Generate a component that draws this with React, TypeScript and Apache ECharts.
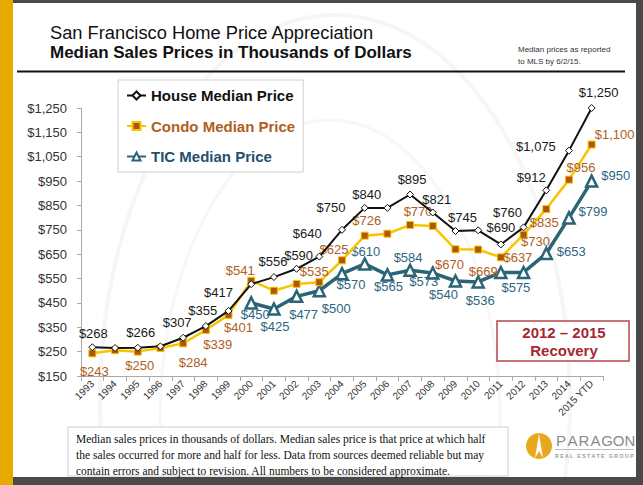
import React, { useEffect, useRef } from "react";
import * as echarts from "echarts";

const years = [
  "1993", "1994", "1995", "1996", "1997", "1998", "1999", "2000", "2001", "2002", "2003", "2004",
  "2005", "2006", "2007", "2008", "2009", "2010", "2011", "2012", "2013", "2014", "2015 YTD",
];

const houseValues = [268, 265, 266, 272, 307, 355, 417, 527, 556, 590, 640, 750, 840, 840, 895, 821, 745, 748, 690, 760, 912, 1075, 1250];
const condoValues = [243, 256, 250, 265, 284, 339, 401, 541, 500, 528, 535, 625, 726, 734, 770, 766, 670, 669, 637, 730, 835, 956, 1100];
const ticValues: (number | null)[] = [null, null, null, null, null, null, null, 450, 425, 477, 500, 570, 610, 565, 584, 573, 540, 536, 575, 575, 653, 799, 950];

const yMin = 150;
const yMax = 1250;
const yStep = 100;

// label placement (offset from point, px); null = no label
type Off = [number, number] | null;
const houseLabelOffsets: Off[] = [
  [1, -14], null, [3, -15], null, [-6, -15], [-3, -16], [-10, -18], null, [-1, -16], [2, -13], [-12, -23], [-11, -22],
  [2, -13], null, [2, -15], [4, -13], [7, -14], null, [0, -17], [-16, -15], [-15, -13], [-33, -4], [7, -16],
];
const condoLabelOffsets: Off[] = [
  [2, 18], null, [2, 14], null, [10, 19], [12, 15], [10, 13], [-11, -10], null, null, [-5, -11], [-8, -11],
  [2, -15], null, [8, -13], null, [-6, 15], [5, 22], [17, 0], [12, 7], [-2, 13], [12, -12], [23, -10],
];
const ticLabelOffsets: Off[] = [
  null, null, null, null, null, null, null, [4, 12], [1, 17], [7, 18], [17, 18], [9, 11],
  [1, -12], [1, 12], [-2, -13], [-9, 9], [-12, 14], [2, 19], [15, 15], null, [25, -2], [24, -6], [24, -6],
];

const footerLines = [
  "Median sales prices in thousands of dollars. Median sales price is that price at which half",
  "the sales occurred for more and half for less. Data from sources deemed reliable but may",
  "contain errors and subject to revision. All numbers to be considered approximate.",
];

const SANS = "'Liberation Sans', Arial, sans-serif";
const SERIF = "'Liberation Serif', 'Times New Roman', serif";

const fmt = (v: number) => "$" + v.toLocaleString("en-US");

function buildData(values: (number | null)[], offsets: Off[], color: string) {
  return values.map((v, i) => {
    if (v == null) return null;
    const off = offsets[i];
    return {
      value: v,
      label: off
        ? {
            show: true,
            position: "inside",
            offset: off,
            color,
            fontSize: 13,
            fontFamily: SANS,
            textBorderWidth: 0,
            formatter: (p: any) => fmt(p.value),
          }
        : { show: false },
    };
  });
}

function txt(text: string, x: number, y: number, fontSize: number, fill: string, extra: any = {}) {
  return {
    type: "text",
    x,
    y,
    silent: true,
    style: {
      text,
      fill,
      fontSize,
      fontFamily: SANS,
      textAlign: "left",
      align: "left",
      textVerticalAlign: "middle",
      verticalAlign: "middle",
      ...extra,
    },
  };
}

export default function App() {
  const ref = useRef<HTMLDivElement>(null);
  useEffect(() => {
    if (!ref.current) return;
    const chart = echarts.init(ref.current, null, { renderer: "svg" });

    const paragon = "PARAGON".split("").map((ch, i) =>
      txt(ch, 561 + i * 11.5, 440, 15, "#8a8a8a", { textAlign: "center", align: "center" })
    );

    const graphic: any[] = [
      // faint watermark
      {
        type: "ellipse",
        z: -10,
        silent: true,
        shape: { cx: 335, cy: 400, rx: 235, ry: 385 },
        style: { fill: "none", stroke: "#f6f6f6", lineWidth: 4 },
      },
      {
        type: "ellipse",
        z: -10,
        silent: true,
        shape: { cx: 330, cy: 420, rx: 170, ry: 300 },
        style: { fill: "none", stroke: "#f7f7f7", lineWidth: 3 },
      },
      // frame
      { type: "rect", shape: { x: 0, y: 0, width: 13, height: 485 }, style: { fill: "#E8AA00" }, silent: true },
      { type: "rect", shape: { x: 13, y: 0, width: 630, height: 3 }, style: { fill: "#4a4a4a" }, silent: true },
      { type: "rect", shape: { x: 636, y: 0, width: 7, height: 485 }, style: { fill: "#4a4a4a" }, silent: true },
      { type: "rect", shape: { x: 13, y: 477, width: 630, height: 8 }, style: { fill: "#4a4a4a" }, silent: true },
      // header
      txt("San Francisco Home Price Appreciation", 50, 32, 18.3, "#111"),
      txt("Median Sales Prices in Thousands of Dollars", 50, 52, 17, "#111", { fontWeight: "bold" }),
      txt("Median prices as reported", 518, 49, 8, "#333"),
      txt("to MLS by 6/2/15.", 518, 61, 8, "#333"),
      {
        type: "line",
        silent: true,
        shape: { x1: 17, y1: 71.5, x2: 625, y2: 71.5 },
        style: { stroke: "#111", lineWidth: 2 },
      },
      // recovery box
      {
        type: "rect",
        silent: true,
        shape: { x: 497, y: 321, width: 132, height: 40 },
        style: { fill: "#fff", stroke: "#b8444e", lineWidth: 1.5 },
      },
      txt("2012 \u2013 2015", 564, 332, 15, "#a8262f", { fontWeight: "bold", textAlign: "center", align: "center" }),
      txt("Recovery", 564, 350, 15, "#a8262f", { fontWeight: "bold", textAlign: "center", align: "center" }),
      // footer
      {
        type: "rect",
        silent: true,
        shape: { x: 68, y: 427, width: 440, height: 49 },
        style: { fill: "#fff", stroke: "#cccccc", lineWidth: 1 },
      },
      ...footerLines.map((l, i) => txt(l, 76, 439 + i * 16, 11.5, "#111", { fontFamily: SERIF })),
      // logo
      {
        type: "circle",
        silent: true,
        shape: { cx: 539, cy: 446, r: 13 },
        style: { fill: "#E9A81C" },
      },
      {
        type: "polygon",
        silent: true,
        shape: { points: [[539, 434], [543, 458], [539, 451], [535, 458]] },
        style: { fill: "#fff" },
      },
      ...paragon,
      {
        type: "line",
        silent: true,
        shape: { x1: 555, y1: 449.5, x2: 634, y2: 449.5 },
        style: { stroke: "#b5bccb", lineWidth: 1 },
      },
      txt("R E A L   E S T A T E   G R O U P", 555, 455.5, 5.2, "#999", { fontWeight: "bold" }),
    ];

    chart.setOption({
      animation: false,
      backgroundColor: "#ffffff",
      grid: { left: 81, right: 40, top: 108, bottom: 109, containLabel: false },
      legend: {
        orient: "vertical",
        left: 118,
        top: 80,
        padding: [8, 8, 8, 8],
        itemGap: 15.5,
        itemWidth: 19,
        itemHeight: 10,
        borderColor: "#d0d0d0",
        borderWidth: 1,
        backgroundColor: "#fff",
        textStyle: { fontFamily: SANS, fontSize: 15, fontWeight: "bold" },
        data: [
          { name: "House Median Price", textStyle: { color: "#111" } },
          { name: "Condo Median Price", textStyle: { color: "#b0601c" } },
          { name: "TIC Median Price", textStyle: { color: "#24506f" } },
        ],
      },
      xAxis: {
        type: "category",
        data: years,
        boundaryGap: true,
        axisLine: { lineStyle: { color: "#aaaaaa" } },
        axisTick: { show: true, length: 5, lineStyle: { color: "#aaaaaa" } },
        axisLabel: { rotate: 45, interval: 0, fontSize: 10, color: "#333", fontFamily: SANS, margin: 6 },
        splitLine: { show: false },
      },
      yAxis: {
        type: "value",
        min: yMin,
        max: yMax,
        interval: yStep,
        splitLine: { show: false },
        axisLine: { show: true, lineStyle: { color: "#aaaaaa" } },
        axisTick: { show: true, length: 4, lineStyle: { color: "#aaaaaa" } },
        axisLabel: {
          fontSize: 13,
          color: "#333",
          fontFamily: SANS,
          margin: 14,
          formatter: (v: number) => fmt(v),
        },
      },
      series: [
        {
          name: "TIC Median Price",
          type: "line",
          data: buildData(ticValues, ticLabelOffsets, "#2e6680"),
          symbol: "triangle",
          symbolSize: 11,
          connectNulls: false,
          lineStyle: { color: "#2b6476", width: 3.5 },
          itemStyle: { color: "#ffffff", borderColor: "#2b6476", borderWidth: 2.5 },
          label: { show: false },
          z: 2,
        },
        {
          name: "Condo Median Price",
          type: "line",
          data: buildData(condoValues, condoLabelOffsets, "#b0601c"),
          symbol: "rect",
          symbolSize: 7,
          lineStyle: { color: "#F7C400", width: 2.5 },
          itemStyle: { color: "#b0560a", borderColor: "#F7C400", borderWidth: 1 },
          label: { show: false },
          z: 3,
        },
        {
          name: "House Median Price",
          type: "line",
          data: buildData(houseValues, houseLabelOffsets, "#1a1a1a"),
          symbol: "diamond",
          symbolSize: 7,
          lineStyle: { color: "#111111", width: 2 },
          itemStyle: { color: "#ffffff", borderColor: "#111111", borderWidth: 1 },
          label: { show: false },
          z: 4,
        },
      ],
      graphic,
    });

    return () => chart.dispose();
  }, []);

  return (
    <div
      ref={ref}
      style={{ position: "absolute", left: 0, top: 0, width: 643, height: 485, background: "#fff" }}
    />
  );
}
